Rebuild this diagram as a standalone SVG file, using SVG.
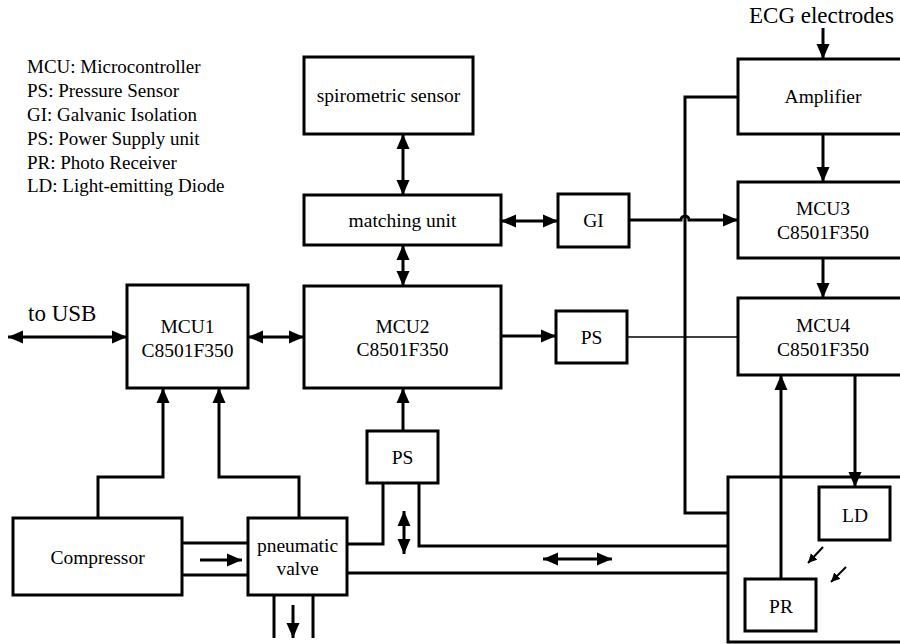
<svg xmlns="http://www.w3.org/2000/svg" width="900" height="644" viewBox="0 0 900 644" font-family="Liberation Serif, serif">
<defs>
<marker id="ah" markerUnits="userSpaceOnUse" markerWidth="16" markerHeight="14" refX="15" refY="6.5" orient="auto-start-reverse" viewBox="0 0 16 13">
<path d="M0,0 L15,6.5 L0,13 z" fill="#000"/>
</marker>
<marker id="sh" markerUnits="userSpaceOnUse" markerWidth="10" markerHeight="10" refX="9" refY="4.5" orient="auto" viewBox="0 0 10 9">
<path d="M0,0 L9,4.5 L0,9 z" fill="#000"/>
</marker>
<style>
.b{fill:#fff;stroke:#000;stroke-width:3}
.c{fill:none;stroke:#000;stroke-width:3}
text{font-family:'Liberation Serif',serif;fill:#000}
.t{font-size:19.5px;text-anchor:middle}
.l{font-size:19px}
.big{font-size:23px}
</style>
</defs>
<rect width="900" height="644" fill="#fff"/>

<g id="legend" font-family="Liberation Serif, serif">
<text class="l" x="27" y="73">MCU: Microcontroller</text>
<text class="l" x="27" y="97">PS: Pressure Sensor</text>
<text class="l" x="27" y="121">GI: Galvanic Isolation</text>
<text class="l" x="27" y="145">PS: Power Supply unit</text>
<text class="l" x="27" y="168.5">PR: Photo Receiver</text>
<text class="l" x="27" y="192">LD: Light-emitting Diode</text>
</g>

<g id="connectors">
<line class="c" x1="403" y1="134" x2="403" y2="195" marker-start="url(#ah)" marker-end="url(#ah)"/>
<line class="c" x1="403" y1="245" x2="403" y2="286" marker-start="url(#ah)" marker-end="url(#ah)"/>
<line class="c" x1="501" y1="221" x2="558" y2="221" marker-start="url(#ah)" marker-end="url(#ah)"/>
<line class="c" x1="8" y1="337" x2="127" y2="337" marker-start="url(#ah)" marker-end="url(#ah)"/>
<line class="c" x1="248" y1="337" x2="304" y2="337" marker-start="url(#ah)" marker-end="url(#ah)"/>
<line class="c" x1="501" y1="336" x2="556" y2="336" marker-end="url(#ah)"/>
<line x1="627" y1="337" x2="738" y2="337" stroke="#000" stroke-width="1.5"/>
<path class="c" d="M629,220 H681 A4,4 0 0 1 689,220 H738" marker-end="url(#ah)"/>
<path class="c" d="M738,97 H685 V513 H728"/>
<line class="c" x1="823" y1="28" x2="823" y2="59" marker-end="url(#ah)"/>
<line class="c" x1="823" y1="134" x2="823" y2="182" marker-end="url(#ah)"/>
<line class="c" x1="823" y1="258" x2="823" y2="298" marker-end="url(#ah)"/>
<line class="c" x1="855" y1="375" x2="855" y2="487" marker-end="url(#ah)"/>
<line class="c" x1="781" y1="579" x2="781" y2="375" marker-end="url(#ah)"/>
<line x1="823" y1="547" x2="808" y2="563" stroke="#000" stroke-width="2" marker-end="url(#sh)"/>
<line x1="846" y1="567" x2="831" y2="582" stroke="#000" stroke-width="2" marker-end="url(#sh)"/>
<line class="c" x1="403" y1="431" x2="403" y2="388" marker-end="url(#ah)"/>
<path class="c" d="M383,483 V544 H347"/>
<path class="c" d="M419,483 V546 H728"/>
<line class="c" x1="347" y1="573" x2="728" y2="573"/>
<line class="c" x1="404" y1="511" x2="404" y2="554" marker-start="url(#ah)" marker-end="url(#ah)"/>
<line class="c" x1="543" y1="559" x2="612" y2="559" marker-start="url(#ah)" marker-end="url(#ah)"/>
<line class="c" x1="182" y1="543" x2="248" y2="543"/>
<line class="c" x1="182" y1="575" x2="248" y2="575"/>
<line class="c" x1="200" y1="560" x2="242" y2="560" marker-end="url(#ah)"/>
<line class="c" x1="274" y1="595" x2="274" y2="638"/>
<line class="c" x1="313" y1="595" x2="313" y2="638"/>
<line class="c" x1="293" y1="605" x2="293" y2="638" marker-end="url(#ah)"/>
<path class="c" d="M98,518 V477 H163 V388" marker-end="url(#ah)"/>
<path class="c" d="M299,518 V477 H219 V388" marker-end="url(#ah)"/>
</g>

<g id="spirometric">
<rect class="b" x="304" y="57" width="169" height="77"/>
<text class="t" x="388.5" y="102">spirometric sensor</text>
</g>
<g id="matching">
<rect class="b" x="304" y="195" width="197" height="50"/>
<text class="t" x="402.5" y="227">matching unit</text>
</g>
<g id="gi">
<rect class="b" x="558" y="194" width="71" height="53"/>
<text class="t" x="593.5" y="227">GI</text>
</g>
<g id="mcu1">
<rect class="b" x="127" y="285" width="121" height="103"/>
<text class="t" x="187.5" y="333">MCU1</text>
<text class="t" x="187.5" y="357">C8501F350</text>
</g>
<g id="mcu2">
<rect class="b" x="304" y="286" width="197" height="102"/>
<text class="t" x="402.5" y="333">MCU2</text>
<text class="t" x="402.5" y="356">C8501F350</text>
</g>
<g id="ps-supply">
<rect class="b" x="556" y="311" width="71" height="52"/>
<text class="t" x="591.5" y="344">PS</text>
</g>
<g id="usb">
<text class="big" x="28" y="321">to USB</text>
</g>
<g id="ecg">
<text class="big" x="749" y="23">ECG electrodes</text>
</g>
<g id="amplifier">
<rect class="b" x="738" y="59" width="200" height="75"/>
<text class="t" x="823" y="103">Amplifier</text>
</g>
<g id="mcu3">
<rect class="b" x="738" y="182" width="200" height="76"/>
<text class="t" x="823" y="215">MCU3</text>
<text class="t" x="823" y="239">C8501F350</text>
</g>
<g id="mcu4">
<rect class="b" x="738" y="298" width="200" height="77"/>
<text class="t" x="823" y="332">MCU4</text>
<text class="t" x="823" y="356">C8501F350</text>
</g>
<g id="enclosure">
<path class="c" d="M910,477 H728 V642 H910"/>
</g>
<g id="ld">
<rect class="b" x="819" y="487" width="71" height="53"/>
<text class="t" x="855" y="522">LD</text>
</g>
<g id="pr">
<rect class="b" x="745" y="579" width="71" height="52"/>
<text class="t" x="781" y="613">PR</text>
</g>
<g id="ps-sensor">
<rect class="b" x="367" y="431" width="71" height="52"/>
<text class="t" x="402.5" y="464">PS</text>
</g>
<g id="compressor">
<rect class="b" x="13" y="518" width="169" height="77"/>
<text class="t" x="97.5" y="564">Compressor</text>
</g>
<g id="valve">
<rect class="b" x="248" y="518" width="99" height="77"/>
<text class="t" x="297.5" y="552">pneumatic</text>
<text class="t" x="297.5" y="575">valve</text>
</g>
</svg>
